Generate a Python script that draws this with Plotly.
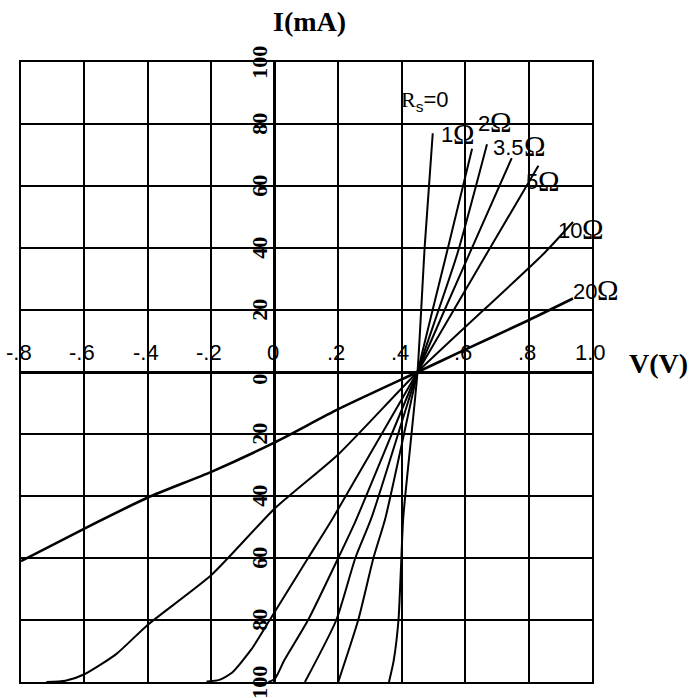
import plotly.graph_objects as go

# I-V characteristics of a solar cell for several series resistances Rs
v_r0 = [0.36, 0.375, 0.39, 0.397, 0.405, 0.429, 0.45, 0.473, 0.498]
i_r0 = [-100, -93, -80, -65, -47, -22, 0, 41, 77]

v_r1 = [0.20, 0.263, 0.311, 0.349, 0.45, 0.541, 0.622]
i_r1 = [-100, -80, -60, -47, 0, 38, 72]

v_r2 = [0.095, 0.194, 0.254, 0.305, 0.45, 0.575, 0.669]
i_r2 = [-100, -80, -60, -47, 0, 38, 73.5]

v_r35 = [-0.02, 0.0, 0.03, 0.105, 0.2, 0.255, 0.45, 0.613, 0.747]
i_r35 = [-100, -99, -93, -80, -60, -48, 0, 38, 69]

v_r5 = [-0.215, -0.175, -0.135, -0.074, -0.013, 0.105, 0.184, 0.45, 0.667, 0.831]
i_r5 = [-99.8, -99.3, -97, -89.5, -79.5, -60, -47, 0, 38, 66.5]

v_r10 = [-0.72, -0.66, -0.6, -0.5, -0.4, -0.2, 0.0, 0.2, 0.45, 0.846, 0.94]
i_r10 = [-100, -99.6, -97.5, -91, -81.5, -65.5, -44, -26.6, 0, 38, 48.4]

v_r20 = [-0.8, -0.6, -0.4, -0.2, 0.0, 0.2, 0.45, 0.6, 0.8, 0.94]
i_r20 = [-61, -50.5, -40.5, -32.2, -22.7, -12, 0, 7.2, 16.7, 23.7]

curve_names = ["Rs=0", "1Ω", "2Ω", "3.5Ω", "5Ω", "10Ω", "20Ω"]
rs_numbers = ["1", "2", "3.5", "5", "10", "20"]
ohm_sign = "Ω"

x_tick_vals = [-0.8, -0.6, -0.4, -0.2, 0.0, 0.2, 0.4, 0.6, 0.8, 1.0]
x_tick_text = ["-.8", "-.6", "-.4", "-.2", "0", ".2", ".4", ".6", ".8", "1.0"]
y_tick_vals = [100, 80, 60, 40, 20, 0, -20, -40, -60, -80, -100]
y_tick_text = ["100", "80", "60", "40", "20", "0", "20", "40", "60", "80", "100"]

curves = [
    (v_r0, i_r0), (v_r1, i_r1), (v_r2, i_r2), (v_r35, i_r35),
    (v_r5, i_r5), (v_r10, i_r10), (v_r20, i_r20),
]

sans = "Liberation Sans, Arial, sans-serif"
serif = "Liberation Serif, Times New Roman, serif"

# label anchors in paper fractions: the point where number meets the Ω sign
rs_label_pos = [
    (0.7566, 0.8823), (0.8214, 0.9016), (0.8809, 0.8629),
    (0.9054, 0.8065), (0.9825, 0.7290), (1.0088, 0.6306),
]
rs0_label_pos = (0.706, 0.937)

fig = go.Figure()
for (v, i), name in zip(curves, curve_names):
    fig.add_trace(go.Scatter(
        x=v, y=i, mode="lines", name=name,
        line=dict(color="black", width=2.6 if name == "20Ω" else 2,
                  shape="spline", smoothing=0.6),
        hoverinfo="skip",
    ))

annotations = [dict(
    x=rs0_label_pos[0], y=rs0_label_pos[1], xref="paper", yref="paper",
    text="<span style='font-family:Liberation Serif, serif'>R</span>"
         "<sub>s</sub>=0",
    showarrow=False, font=dict(family=sans, size=22, color="black"),
    xanchor="center", yanchor="middle",
)]

for (x, y), num in zip(rs_label_pos, rs_numbers):
    annotations.append(dict(
        x=x, y=y, xref="paper", yref="paper", text=num, showarrow=False,
        font=dict(family=sans, size=22, color="black"),
        xanchor="right", yanchor="middle", borderpad=0, xshift=1,
    ))
    annotations.append(dict(
        x=x, y=y, xref="paper", yref="paper", text=ohm_sign, showarrow=False,
        font=dict(family=serif, size=29, color="black"),
        xanchor="left", yanchor="middle", borderpad=0, xshift=-1, yshift=1,
    ))

for xv, txt in zip(x_tick_vals, x_tick_text):
    annotations.append(dict(
        x=xv, y=0, xref="x", yref="y", text=txt, showarrow=False,
        font=dict(family=sans, size=22, color="black"),
        xanchor="center", yanchor="middle", yshift=20, xshift=-2,
    ))

for yv, txt in zip(y_tick_vals, y_tick_text):
    annotations.append(dict(
        x=0, y=yv, xref="x", yref="y", text="<b>" + txt + "</b>",
        showarrow=False, textangle=-90,
        font=dict(family=serif, size=22, color="black"),
        xanchor="center", yanchor="middle", xshift=-16,
        yshift=-7 if yv == 0 else 0,
    ))

annotations.append(dict(
    x=0.506, y=1.066, xref="paper", yref="paper", text="<b>I(mA)</b>",
    showarrow=False, font=dict(family=serif, size=28, color="black"),
    xanchor="center", yanchor="middle",
))
annotations.append(dict(
    x=1.117, y=0.5145, xref="paper", yref="paper", text="<b>V(V)</b>",
    showarrow=False, font=dict(family=serif, size=28, color="black"),
    xanchor="center", yanchor="middle",
))

fig.update_layout(
    width=691, height=698,
    margin=dict(l=21, r=99, t=62, b=16),
    paper_bgcolor="white", plot_bgcolor="white",
    showlegend=False,
    annotations=annotations,
)
fig.update_xaxes(
    range=[-0.8, 1.0], tick0=-0.8, dtick=0.2, showticklabels=False,
    showgrid=True, gridcolor="black", gridwidth=2,
    zeroline=True, zerolinecolor="black", zerolinewidth=3,
    showline=True, linecolor="black", linewidth=2, mirror=True, ticks="",
    fixedrange=True,
)
fig.update_yaxes(
    range=[-100, 100], tick0=-100, dtick=20, showticklabels=False,
    showgrid=True, gridcolor="black", gridwidth=2,
    zeroline=True, zerolinecolor="black", zerolinewidth=3,
    showline=True, linecolor="black", linewidth=2, mirror=True, ticks="",
    fixedrange=True,
)

fig.write_html("out.html", config={"displayModeBar": False})
